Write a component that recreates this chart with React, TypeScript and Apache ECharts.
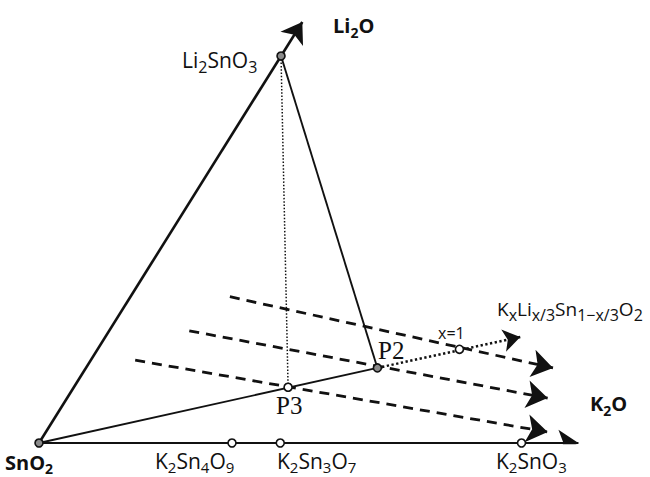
import React, { useEffect, useRef } from "react";
import * as echarts from "echarts";

// Compositions in mole fractions: k = K2O fraction, l = Li2O fraction (rest SnO2)
const pointNames = ["SnO2", "Li2SnO3", "K2Sn4O9", "K2Sn3O7", "K2SnO3", "P3", "P2", "x=1"];
const pointK = [0, 0, 0.2, 0.25, 0.5, 0.222, 0.302, 0.375];
const pointL = [0, 0.5, 0, 0, 0, 0.072, 0.097, 0.121];
const pointFilled = [true, true, false, false, false, false, true, false];

// Axis arrow ends (Li2O axis, K2O axis)
const axisEndK = [0, 0.559];
const axisEndL = [0.544, 0];

// Dashed guide arrows
const guideStartK = [0.103, 0.083, 0.046];
const guideStartL = [0.189, 0.145, 0.107];
const guideEndK = [0.484, 0.498, 0.52];
const guideEndL = [0.097, 0.058, 0.0142];

// Solid tie lines and dotted lines (by point name)
const solidFrom = ["Li2SnO3", "SnO2"];
const solidTo = ["P2", "P2"];
const dottedFrom = ["Li2SnO3"];
const dottedTo = ["P3"];

// K_xLi_{x/3}Sn_{1-x/3}O_2 series direction (from P2 through x=1)
const seriesArrowK = [0.302, 0.43];
const seriesArrowL = [0.097, 0.137];

// layout constant: Li2O axis is drawn slanted
const SKEW = 0.5016;
const toXY = (k: number, l: number) => [k + l * SKEW, l];
const pt = (name: string) => {
  const i = pointNames.indexOf(name);
  return toXY(pointK[i], pointL[i]);
};

const SANS = "'Open Sans', 'Noto Sans', sans-serif";
const SERIF = "'Liberation Serif', 'DejaVu Serif', serif";
const INK = "#111111";

function chem(src: string) {
  let out = "";
  let buf = "";
  let i = 0;
  while (i < src.length) {
    const c = src[i];
    if (c === "_") {
      if (buf) { out += `{n|${buf}}`; buf = ""; }
      let sub = "";
      if (src[i + 1] === "{") {
        const j = src.indexOf("}", i + 2);
        sub = src.slice(i + 2, j);
        i = j + 1;
      } else {
        sub = src[i + 1];
        i += 2;
      }
      out += `{s|${sub}}`;
    } else {
      buf += c;
      i++;
    }
  }
  if (buf) out += `{n|${buf}}`;
  return out;
}

function label(x: number, y: number, text: string, size: number, sub: number, weight = "normal", family = SANS, drop = 8) {
  const lh = size + drop;
  return {
    type: "text",
    x,
    y,
    z: 100,
    style: {
      text: chem(text),
      align: "left",
      verticalAlign: "middle",
      fill: INK,
      rich: {
        n: { font: `${weight} ${size}px ${family}`, fill: INK, lineHeight: lh, verticalAlign: "middle" },
        s: { font: `${weight} ${sub}px ${family}`, fill: INK, lineHeight: lh, verticalAlign: "bottom" },
      },
    },
  };
}

export default function App() {
  const ref = useRef<HTMLDivElement>(null);
  useEffect(() => {
    if (!ref.current) return;
    const chart = echarts.init(ref.current, null, { renderer: "svg" });

    const axesData = axisEndK.map((k, i) => ({
      coords: [[0, 0], toXY(k, axisEndL[i])],
      lineStyle: { width: i === 0 ? 2.6 : 2.2 },
    }));
    const guideData = guideStartK.map((k, i) => ({
      coords: [toXY(k, guideStartL[i]), toXY(guideEndK[i], guideEndL[i])],
    }));
    const solidData = solidFrom.map((f, i) => ({ coords: [pt(f), pt(solidTo[i])] }));
    const dottedData = dottedFrom.map((f, i) => ({ coords: [pt(f), pt(dottedTo[i])] }));
    const seriesData = [
      { coords: [toXY(seriesArrowK[0], seriesArrowL[0]), toXY(seriesArrowK[1], seriesArrowL[1])] },
    ];

    const scatterData = pointNames.map((n, i) => ({
      name: n,
      value: toXY(pointK[i], pointL[i]),
      itemStyle: { color: pointFilled[i] ? "#8a8a8a" : "#ffffff" },
    }));

    chart.setOption({
      animation: false,
      grid: { left: 39, right: 32, top: 17.3, bottom: 34 },
      xAxis: { type: "value", min: 0, max: 0.6, show: false },
      yAxis: { type: "value", min: 0, max: 0.55, show: false },
      series: [
        {
          type: "lines",
          coordinateSystem: "cartesian2d",
          symbol: ["none", "arrow"],
          symbolSize: [13, 20],
          lineStyle: { color: INK, width: 2.4, opacity: 1, curveness: 0 },
          data: axesData,
          z: 3,
        },
        {
          type: "lines",
          coordinateSystem: "cartesian2d",
          symbol: ["none", "arrow"],
          symbolSize: [12, 21],
          lineStyle: { color: INK, width: 2.8, opacity: 1, type: [10, 7], curveness: 0 },
          data: guideData,
          z: 2,
        },
        {
          type: "lines",
          coordinateSystem: "cartesian2d",
          symbol: "none",
          lineStyle: { color: INK, width: 1.9, opacity: 1, curveness: 0 },
          data: solidData,
          z: 3,
        },
        {
          type: "lines",
          coordinateSystem: "cartesian2d",
          symbol: "none",
          lineStyle: { color: INK, width: 1.5, opacity: 1, type: [1.5, 1.8], curveness: 0 },
          data: dottedData,
          z: 3,
        },
        {
          type: "lines",
          coordinateSystem: "cartesian2d",
          symbol: ["none", "arrow"],
          symbolSize: [11, 17],
          lineStyle: { color: INK, width: 2.5, opacity: 1, type: [2.3, 2.5], curveness: 0 },
          data: seriesData,
          z: 3,
        },
        {
          type: "scatter",
          symbol: "circle",
          symbolSize: 8,
          itemStyle: { borderColor: INK, borderWidth: 1.6, opacity: 1 },
          data: scatterData,
          z: 10,
        },
      ],
      graphic: [
        label(333, 25, "Li_2O", 20, 14, "bold"),
        label(182, 60, "Li_2SnO_3", 21, 16),
        label(497, 309, "K_{x}Li_{x/3}Sn_{1−x/3}O_2", 19, 16),
        label(438, 333, "x=1", 16, 12),
        label(378, 350, "P2", 25, 16, "normal", SERIF),
        label(276, 405, "P3", 25, 16, "normal", SERIF),
        label(590, 403, "K_2O", 20, 14, "bold"),
        label(5, 462, "SnO_2", 20, 14, "bold", SANS, 6),
        label(155, 461, "K_2Sn_4O_9", 21, 15, "normal", SANS, 6),
        label(277, 461, "K_2Sn_3O_7", 21, 15, "normal", SANS, 6),
        label(496, 461, "K_2SnO_3", 21, 15, "normal", SANS, 6),
      ],
    });
    return () => chart.dispose();
  }, []);
  return (
    <div
      ref={ref}
      style={{ position: "fixed", left: 0, top: 0, width: 650, height: 477, background: "#fff" }}
    />
  );
}
